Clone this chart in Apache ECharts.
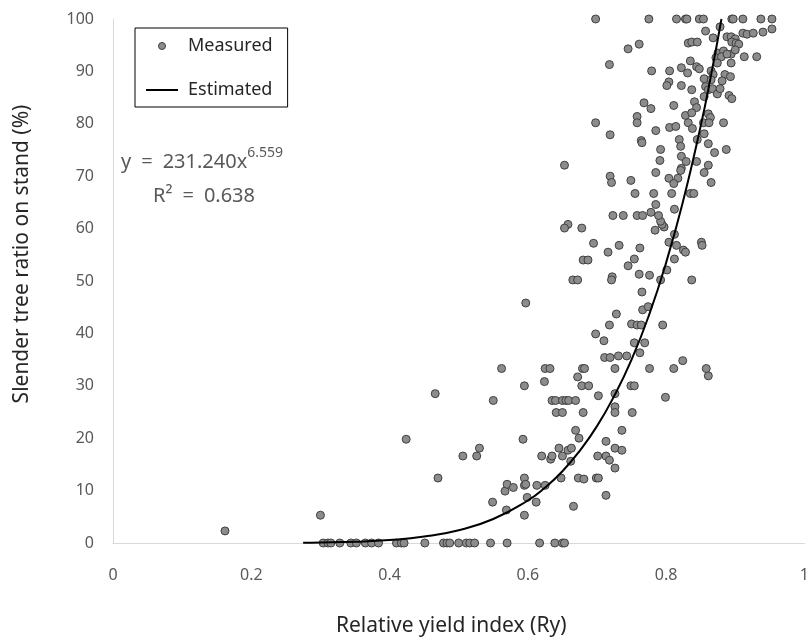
<!DOCTYPE html>
<html>
<head>
<meta charset="utf-8">
<script src="https://cdn.jsdelivr.net/npm/echarts@6/dist/echarts.min.js"></script>
<style>
  html, body { margin: 0; padding: 0; background: #fff; }
  #main { width: 812px; height: 642px; }
</style>
</head>
<body>
<div id="main"></div>
<script>
// stands sitting on the x axis (ratio = 0)
var zeroRowRy = [0.304, 0.311, 0.315, 0.328, 0.344, 0.352, 0.365, 0.374, 0.384, 0.410,
  0.417, 0.421, 0.451, 0.478, 0.483, 0.487, 0.500, 0.511, 0.516, 0.523, 0.546, 0.570,
  0.617, 0.639, 0.650, 0.653];
// stands at the top (ratio = 100)
var topRowRy = [0.698, 0.775, 0.815, 0.828, 0.830, 0.848, 0.854, 0.895, 0.897, 0.911, 0.937, 0.953];

// [Ry, ratio %]
var lowPoints = [
  [0.162, 2.3], [0.300, 5.3], [0.424, 19.8], [0.466, 28.5], [0.470, 12.4], [0.506, 16.6],
  [0.526, 16.6], [0.530, 18.1], [0.549, 7.8], [0.550, 27.2], [0.562, 33.3], [0.567, 9.9],
  [0.569, 6.3], [0.570, 11.2], [0.579, 10.6], [0.593, 19.8], [0.595, 12.4], [0.595, 11.0],
  [0.595, 5.3], [0.597, 11.2], [0.597, 45.8], [0.599, 8.7], [0.595, 30.0], [0.612, 7.8],
  [0.613, 11.0], [0.620, 16.6], [0.624, 30.8], [0.625, 11.0], [0.625, 33.3], [0.632, 33.3],
  [0.633, 16.0], [0.635, 16.6], [0.635, 27.2], [0.640, 27.2], [0.641, 24.9], [0.645, 18.1],
  [0.648, 12.4], [0.650, 27.2], [0.650, 24.9], [0.650, 16.6], [0.655, 27.2], [0.658, 17.7],
  [0.659, 27.2], [0.662, 15.6], [0.663, 18.1], [0.666, 7.0], [0.669, 27.2], [0.669, 21.5],
  [0.672, 31.7], [0.673, 12.4], [0.674, 20.0], [0.678, 30.0], [0.680, 24.9], [0.681, 12.2],
  [0.688, 30.0], [0.699, 12.4], [0.701, 16.6], [0.702, 12.4], [0.702, 28.1], [0.713, 19.4],
  [0.713, 16.6], [0.713, 9.1], [0.718, 15.8], [0.726, 28.5], [0.726, 26.0], [0.726, 24.9],
  [0.726, 18.1], [0.726, 14.3], [0.736, 21.5], [0.736, 17.7], [0.749, 30.0], [0.751, 24.9],
  [0.754, 30.0], [0.799, 27.8], [0.861, 31.9]
];
var midPoints = [
  [0.679, 33.3], [0.682, 33.3], [0.726, 33.3], [0.776, 33.3], [0.811, 33.3], [0.858, 33.3],
  [0.743, 35.7], [0.731, 35.7], [0.711, 35.4], [0.719, 35.4], [0.824, 34.8], [0.762, 36.3],
  [0.754, 38.2], [0.769, 38.2], [0.710, 38.6], [0.698, 39.9], [0.750, 41.8], [0.758, 41.6],
  [0.764, 41.6], [0.795, 41.6], [0.718, 41.6], [0.728, 43.7], [0.766, 44.5], [0.774, 45.1],
  [0.765, 47.9], [0.665, 50.2], [0.672, 50.2], [0.722, 50.8], [0.721, 50.2], [0.761, 51.3],
  [0.776, 51.1], [0.792, 50.2], [0.837, 50.2], [0.801, 52.1], [0.745, 52.9], [0.680, 54.0],
  [0.687, 54.0], [0.754, 54.2], [0.812, 54.2], [0.716, 55.5], [0.762, 56.3], [0.732, 56.8],
  [0.695, 57.2], [0.804, 57.4], [0.815, 56.8], [0.825, 55.9], [0.828, 55.5], [0.851, 57.4],
  [0.852, 56.8], [0.812, 58.9], [0.784, 59.7], [0.797, 60.3], [0.794, 60.8], [0.792, 61.4],
  [0.658, 60.8], [0.653, 60.1], [0.678, 60.1], [0.723, 62.5], [0.738, 62.5], [0.758, 62.5],
  [0.766, 62.5], [0.778, 63.1], [0.789, 62.5], [0.812, 63.7], [0.785, 64.6], [0.755, 66.7],
  [0.782, 66.7], [0.808, 66.7], [0.835, 66.7], [0.840, 66.7]
];
var highPoints = [
  [0.878, 98.5], [0.857, 97.7], [0.911, 97.3], [0.917, 97.1], [0.926, 97.3], [0.940, 97.5],
  [0.953, 98.1], [0.868, 96.4], [0.888, 96.6], [0.894, 96.6], [0.900, 96.2], [0.895, 95.6],
  [0.901, 95.4], [0.905, 95.2], [0.832, 95.4], [0.837, 95.6], [0.845, 95.6], [0.745, 94.3],
  [0.761, 95.2], [0.875, 93.5], [0.883, 93.9], [0.894, 93.3], [0.900, 94.1], [0.872, 92.6],
  [0.880, 92.8], [0.888, 93.3], [0.874, 91.6], [0.913, 92.8], [0.931, 92.8], [0.894, 91.6],
  [0.718, 91.3], [0.835, 92.0], [0.779, 90.1], [0.805, 90.1], [0.822, 90.7], [0.831, 89.7],
  [0.844, 90.9], [0.848, 90.5], [0.865, 90.1], [0.868, 89.4], [0.885, 89.4], [0.893, 89.0],
  [0.855, 88.6], [0.865, 88.4], [0.881, 88.2], [0.804, 88.0], [0.801, 87.3], [0.822, 87.3],
  [0.837, 86.5], [0.857, 87.1], [0.861, 86.5], [0.867, 86.7], [0.874, 85.7], [0.878, 86.7],
  [0.855, 85.2], [0.891, 85.4], [0.895, 84.8], [0.768, 84.0], [0.778, 82.9], [0.811, 83.5],
  [0.841, 84.2], [0.844, 83.1], [0.828, 81.6], [0.837, 82.1], [0.861, 81.9], [0.864, 81.2],
  [0.758, 81.4], [0.758, 80.2], [0.698, 80.2], [0.832, 80.2], [0.838, 79.1], [0.854, 80.2],
  [0.862, 80.2], [0.883, 80.2], [0.805, 79.3], [0.814, 79.5], [0.785, 78.7], [0.719, 77.9],
  [0.855, 78.1], [0.819, 77.0], [0.821, 75.7], [0.764, 76.8], [0.765, 76.4], [0.861, 76.2],
  [0.845, 77.0], [0.792, 75.1], [0.887, 75.1], [0.870, 74.5], [0.822, 73.8], [0.791, 73.0],
  [0.829, 72.8], [0.844, 72.8], [0.653, 72.1], [0.861, 72.1], [0.785, 70.7], [0.822, 71.5],
  [0.821, 71.1], [0.855, 70.7], [0.719, 70.0], [0.721, 68.8], [0.749, 69.2], [0.804, 69.6],
  [0.817, 69.6], [0.811, 68.6], [0.865, 68.8]
];

// fitted curve
var curveRy = [0.275, 0.30, 0.35, 0.40, 0.45, 0.50, 0.55, 0.60, 0.625, 0.65, 0.675, 0.70,
  0.725, 0.75, 0.775, 0.80, 0.825, 0.85, 0.865, 0.88];
var curveRatio = [0.05, 0.09, 0.24, 0.57, 1.23, 2.45, 4.58, 8.11, 10.6, 13.7, 17.6, 22.3,
  28.1, 35.0, 43.4, 53.5, 65.5, 79.6, 89.3, 100];

var measured = [];
zeroRowRy.forEach(function (x) { measured.push([x, 0]); });
topRowRy.forEach(function (x) { measured.push([x, 100]); });
measured = measured.concat(lowPoints, midPoints, highPoints);

var curve = curveRy.map(function (x, i) { return [x, curveRatio[i]]; });

var font = 'Noto Sans';
var chart = echarts.init(document.getElementById('main'));
var option = {
  backgroundColor: '#fff',
  animation: false,
  textStyle: { fontFamily: font },
  grid: { left: 113, right: 1, top: 19, bottom: 97, containLabel: false },
  legend: {
    left: 135,
    top: 28,
    orient: 'vertical',
    borderColor: '#000',
    borderWidth: 1,
    borderRadius: 0,
    padding: [9, 15, 8, 11],
    itemGap: 26,
    itemWidth: 32,
    itemHeight: 7,
    textStyle: { fontFamily: font, fontSize: 18, color: '#262626', padding: [0, 0, 0, 5] },
    data: [
      { name: 'Measured', icon: 'circle', itemStyle: { color: '#8c8c8c', borderColor: '#404040', borderWidth: 1 } },
      { name: 'Estimated', icon: 'path://M0,0H32V2H0Z', itemStyle: { color: '#000', borderWidth: 0 } }
    ]
  },
  xAxis: {
    type: 'value',
    min: 0,
    max: 1,
    interval: 0.2,
    name: 'Relative yield index (Ry)',
    nameLocation: 'middle',
    nameGap: 73,
    nameTextStyle: { fontFamily: font, fontSize: 21, color: '#262626', padding: [0, 15, 0, 0] },
    axisLine: { show: true, lineStyle: { color: '#d9d9d9', width: 1 } },
    axisTick: { show: false },
    splitLine: { show: false },
    axisLabel: { fontFamily: font, fontSize: 16, color: '#595959', margin: 24 }
  },
  yAxis: {
    type: 'value',
    min: 0,
    max: 100,
    interval: 10,
    name: 'Slender tree ratio on stand (%)',
    nameLocation: 'middle',
    nameGap: 80,
    nameTextStyle: { fontFamily: font, fontSize: 21, color: '#262626', padding: [0, 0, 0, 54] },
    axisLine: { show: true, lineStyle: { color: '#d9d9d9', width: 1 } },
    axisTick: { show: false },
    splitLine: { show: false },
    axisLabel: { fontFamily: font, fontSize: 16, color: '#595959', margin: 19 }
  },
  graphic: [
    {
      type: 'text',
      left: 121,
      top: 146,
      style: {
        text: '{b|y\u2002=\u2002231.240x}{s|6.559}',
        rich: {
          b: { fontFamily: font, fontSize: 20, fill: '#595959', verticalAlign: 'bottom', lineHeight: 26 },
          s: { fontFamily: font, fontSize: 14, fill: '#595959', verticalAlign: 'top', lineHeight: 26, padding: [0, 0, 12, 0] }
        }
      }
    },
    {
      type: 'text',
      left: 153,
      top: 186,
      style: { text: 'R\u00b2\u2002=\u20020.638', fontFamily: font, fontSize: 20, fill: '#595959' }
    }
  ],
  series: [
    {
      name: 'Measured',
      type: 'scatter',
      symbol: 'circle',
      symbolSize: 8,
      itemStyle: { color: '#8c8c8c', borderColor: '#404040', borderWidth: 1, opacity: 1 },
      data: measured,
      z: 2
    },
    {
      name: 'Estimated',
      type: 'line',
      smooth: true,
      symbol: 'none',
      lineStyle: { color: '#000', width: 2 },
      itemStyle: { color: '#000' },
      data: curve,
      z: 3
    }
  ]
};
chart.setOption(option);
</script>
</body>
</html>
